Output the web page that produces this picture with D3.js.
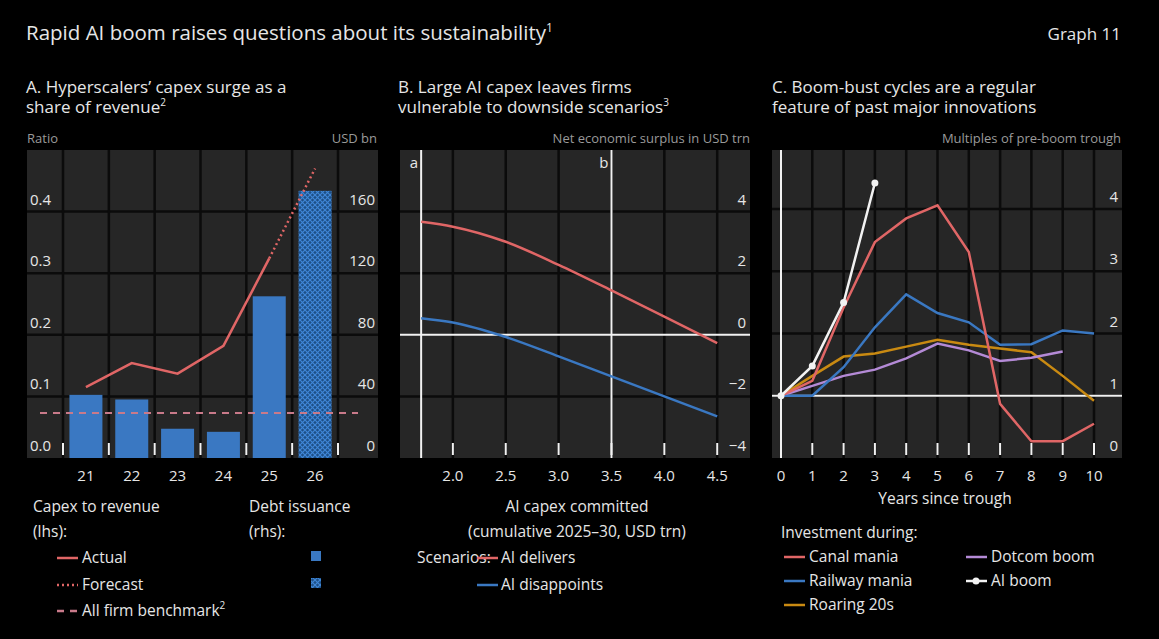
<!DOCTYPE html>
<html lang="en">
<head>
<meta charset="UTF-8">
<title>Rapid AI boom</title>
<script src="https://d3js.org/d3.v7.min.js"></script>
<style>
  body { margin: 0; background: #000; }
  svg text { font-family: "Open Sans", "Noto Sans", sans-serif; fill: #e6e6e6; }
  .unit { fill: #9a9a9a; font-size: 13px; }
  .tick { font-size: 15px; }
  .leg { font-size: 15.5px; }
</style>
</head>
<body>
<script>
// Panel A
const years = ["21", "22", "23", "24", "25", "26"];
const debtIssuance = [41, 38, 19, 17, 105, 173.5];
const capexActual = [0.115, 0.154, 0.137, 0.182, 0.324];
const capexForecast = [0.324, 0.47];
const benchmark = 0.073;
const ratioTicks = [0, 0.1, 0.2, 0.3, 0.4];
const usdTicks = [0, 40, 80, 120, 160];

// Panel B
const capexCommitted = [1.7, 2.0, 2.5, 3.0, 3.5, 4.0, 4.5];
const aiDelivers = [3.67, 3.51, 3.02, 2.27, 1.44, 0.59, -0.27];
const aiDisappoints = [0.54, 0.4, -0.07, -0.7, -1.35, -2.0, -2.65];
const capexTicks = [2.0, 2.5, 3.0, 3.5, 4.0, 4.5];
const surplusTicks = [-4, -2, 0, 2, 4];

// Panel C
const yearsSince = [0, 1, 2, 3, 4, 5, 6, 7, 8, 9, 10];
const canalMania = [1, 1.24, 2.42, 3.47, 3.85, 4.06, 3.31, 0.87, 0.27, 0.27, 0.55];
const railwayMania = [1, 1.0, 1.46, 2.1, 2.63, 2.33, 2.18, 1.82, 1.83, 2.05, 2.0];
const roaring20s = [1, 1.32, 1.63, 1.68, 1.79, 1.9, 1.82, 1.76, 1.7, 1.32, 0.92];
const dotcomBoom = [1, 1.16, 1.32, 1.42, 1.6, 1.84, 1.73, 1.56, 1.61, 1.71];
const aiBoom = [1, 1.48, 2.5, 4.42];
const multipleTicks = [0, 1, 2, 3, 4];

const RED = "#e06666", BLUE = "#3a78c2", ORANGE = "#c98a12", PURPLE = "#b48ad6", WHITE = "#f2f2f2";
const PANEL = "#262626", GRID = "#0b0b0b";
const plotTop = 150, plotBottom = 458;

const svg = d3.select("body").append("svg").attr("width", 1159).attr("height", 639);
svg.append("rect").attr("width", 1159).attr("height", 639).attr("fill", "#000");

svg.append("text").attr("x", 26).attr("y", 40).attr("font-size", 20.5).text("Rapid AI boom raises questions about its sustainability")
  .append("tspan").attr("font-size", 12).attr("dy", -8).text("1");
svg.append("text").attr("x", 1121).attr("y", 40).attr("font-size", 17).attr("text-anchor", "end").text("Graph 11");

function titles(x, l1, l2, sup) {
  svg.append("text").attr("x", x).attr("y", 93).attr("font-size", 17).text(l1);
  const t = svg.append("text").attr("x", x).attr("y", 113).attr("font-size", 17).text(l2);
  t.append("tspan").attr("font-size", 10).attr("dy", -7).text(sup);
}
titles(26, "A. Hyperscalers’ capex surge as a", "share of revenue", "2");
titles(398, "B. Large AI capex leaves firms", "vulnerable to downside scenarios", "3");
titles(772, "C. Boom-bust cycles are a regular", "feature of past major innovations", "");

function panel(x0, x1) {
  svg.append("rect").attr("x", x0).attr("y", plotTop).attr("width", x1 - x0).attr("height", plotBottom - plotTop).attr("fill", PANEL);
}
function hgrid(x0, x1, y, ticks) {
  svg.append("g").selectAll("line").data(ticks).join("line")
    .attr("x1", x0).attr("x2", x1).attr("y1", d => y(d)).attr("y2", d => y(d))
    .attr("stroke", GRID).attr("stroke-width", 2.5);
}
function vgrid(xs) {
  svg.append("g").selectAll("line").data(xs).join("line")
    .attr("x1", d => d).attr("x2", d => d).attr("y1", plotTop).attr("y2", plotBottom)
    .attr("stroke", GRID).attr("stroke-width", 2.5);
}
function bottomTicks(xs) {
  svg.append("g").selectAll("line").data(xs).join("line")
    .attr("x1", d => d).attr("x2", d => d).attr("y1", plotBottom - 15).attr("y2", plotBottom - 3)
    .attr("stroke", WHITE).attr("stroke-width", 2);
}
function yLabels(x, y, ticks, fmt, anchor) {
  svg.append("g").selectAll("text").data(ticks).join("text").attr("class", "tick")
    .attr("x", x).attr("y", d => y(d) - 7).attr("text-anchor", anchor).text(fmt);
}

// ---------- Panel A ----------
const ax0 = 27, ax1 = 378;
panel(ax0, ax1);
const xA = d3.scaleBand().domain(years).range([63, 338]).paddingInner(0.28).paddingOuter(0.14);
const yA = d3.scaleLinear().domain([0, 0.5]).range([plotBottom, plotTop]);
const yA2 = d3.scaleLinear().domain([0, 200]).range([plotBottom, plotTop]);
hgrid(ax0, ax1, yA, [0.1, 0.2, 0.3, 0.4]);
const stepA = (338 - 63) / years.length;
const bordersA = d3.range(years.length + 1).map(i => 63 + i * stepA);
vgrid(bordersA);
bottomTicks(bordersA);
yLabels(30, yA, ratioTicks, d3.format(".1f"), "start");
yLabels(375, yA2, usdTicks, d => d, "end");

const defs = svg.append("defs");
const pat = defs.append("pattern").attr("id", "hatch").attr("width", 5).attr("height", 5)
  .attr("patternUnits", "userSpaceOnUse");
pat.append("rect").attr("width", 5).attr("height", 5).attr("fill", "#1d4f86");
pat.append("path").attr("d", "M0,0L5,5M5,0L0,5").attr("stroke", "#3f86d6").attr("stroke-width", 1.2);

svg.append("g").selectAll("rect").data(debtIssuance).join("rect")
  .attr("x", (d, i) => xA(years[i])).attr("width", xA.bandwidth())
  .attr("y", d => yA2(d)).attr("height", d => yA2(0) - yA2(d))
  .attr("fill", (d, i) => i === 5 ? "url(#hatch)" : BLUE);
svg.append("line").attr("x1", 40).attr("x2", 358).attr("y1", yA(benchmark)).attr("y2", yA(benchmark))
  .attr("stroke", "#c97a8a").attr("stroke-width", 2).attr("stroke-dasharray", "7,6");
const cx = i => xA(years[i]) + xA.bandwidth() / 2;
svg.append("path").datum(capexActual)
  .attr("d", d3.line().x((d, i) => cx(i)).y(d => yA(d)))
  .attr("fill", "none").attr("stroke", RED).attr("stroke-width", 2.5);
svg.append("path").datum(capexForecast)
  .attr("d", d3.line().x((d, i) => cx(i + 4)).y(d => yA(d)))
  .attr("fill", "none").attr("stroke", RED).attr("stroke-width", 2.5).attr("stroke-dasharray", "2,3");
svg.append("g").selectAll("text").data(years).join("text").attr("class", "tick")
  .attr("x", d => xA(d) + xA.bandwidth() / 2).attr("y", 481).attr("text-anchor", "middle").text(d => d);
svg.append("text").attr("class", "unit").attr("x", 27).attr("y", 143).text("Ratio");
svg.append("text").attr("class", "unit").attr("x", 377).attr("y", 143).attr("text-anchor", "end").text("USD bn");

// ---------- Panel B ----------
const bx0 = 400, bx1 = 750;
panel(bx0, bx1);
const xB = d3.scaleLinear().domain([1.5, 4.81]).range([bx0, bx1]);
const yB = d3.scaleLinear().domain([-4, 6]).range([plotBottom, plotTop]);
hgrid(bx0, bx1, yB, [-2, 2, 4]);
vgrid(capexTicks.map(xB));
bottomTicks(capexTicks.map(xB));
yLabels(746, yB, surplusTicks, d => d < 0 ? "−" + (-d) : d, "end");
svg.append("line").attr("x1", bx0).attr("x2", bx1).attr("y1", yB(0)).attr("y2", yB(0)).attr("stroke", WHITE).attr("stroke-width", 2);
[[1.7, "a"], [3.5, "b"]].forEach(([v, lab]) => {
  svg.append("line").attr("x1", xB(v)).attr("x2", xB(v)).attr("y1", plotTop).attr("y2", plotBottom).attr("stroke", WHITE).attr("stroke-width", 2);
  svg.append("text").attr("x", xB(v) - 3).attr("y", 168).attr("text-anchor", "end").attr("font-size", 15).text(lab);
});
const lineB = d3.line().x((d, i) => xB(capexCommitted[i])).y(d => yB(d)).curve(d3.curveMonotoneX);
svg.append("path").datum(aiDelivers).attr("d", lineB).attr("fill", "none").attr("stroke", RED).attr("stroke-width", 2.5);
svg.append("path").datum(aiDisappoints).attr("d", lineB).attr("fill", "none").attr("stroke", BLUE).attr("stroke-width", 2.5);
svg.append("g").selectAll("text").data(capexTicks).join("text").attr("class", "tick")
  .attr("x", d => xB(d)).attr("y", 481).attr("text-anchor", "middle").text(d3.format(".1f"));
svg.append("text").attr("class", "unit").attr("x", 750).attr("y", 143).attr("text-anchor", "end").text("Net economic surplus in USD trn");

// ---------- Panel C ----------
const cx0 = 772, cx1 = 1122;
panel(cx0, cx1);
const xC = d3.scaleLinear().domain([0, 10]).range([781, 1094]);
const yC = d3.scaleLinear().domain([0, 4.95]).range([plotBottom, plotTop]);
hgrid(cx0, cx1, yC, [1, 2, 3, 4]);
vgrid(yearsSince.slice(1).map(xC));
bottomTicks(yearsSince.slice(1).map(xC));
yLabels(1118, yC, multipleTicks, d => d, "end");
svg.append("line").attr("x1", cx0).attr("x2", cx1).attr("y1", yC(1)).attr("y2", yC(1)).attr("stroke", WHITE).attr("stroke-width", 2);
svg.append("line").attr("x1", xC(0)).attr("x2", xC(0)).attr("y1", plotTop).attr("y2", plotBottom).attr("stroke", WHITE).attr("stroke-width", 2);
const lineC = d3.line().x((d, i) => xC(yearsSince[i])).y(d => yC(d));
[[roaring20s, ORANGE], [dotcomBoom, PURPLE], [railwayMania, BLUE], [canalMania, RED], [aiBoom, WHITE]].forEach(([s, c]) => {
  svg.append("path").datum(s).attr("d", lineC).attr("fill", "none").attr("stroke", c).attr("stroke-width", 2.5);
});
svg.append("g").selectAll("circle").data(aiBoom).join("circle")
  .attr("cx", (d, i) => xC(yearsSince[i])).attr("cy", d => yC(d)).attr("r", 3.5).attr("fill", WHITE);
svg.append("g").selectAll("text").data(yearsSince).join("text").attr("class", "tick")
  .attr("x", d => xC(d)).attr("y", 481).attr("text-anchor", "middle").text(d => d);
svg.append("text").attr("class", "unit").attr("x", 1121).attr("y", 143).attr("text-anchor", "end").text("Multiples of pre-boom trough");

// ---------- Legends ----------
function txt(x, y, s, anchor) {
  return svg.append("text").attr("class", "leg").attr("x", x).attr("y", y).attr("text-anchor", anchor || "start").text(s);
}
function legLine(x, y, color, dash) {
  svg.append("line").attr("x1", x).attr("x2", x + 21).attr("y1", y - 5).attr("y2", y - 5)
    .attr("stroke", color).attr("stroke-width", 2.5).attr("stroke-dasharray", dash || null);
}
txt(33, 512, "Capex to revenue"); txt(33, 537, "(lhs):");
legLine(57, 563, RED); txt(82, 563, "Actual");
legLine(57, 590, RED, "2,3"); txt(82, 590, "Forecast");
legLine(57, 616, "#c97a8a", "7,6"); txt(82, 616, "All firm benchmark").append("tspan").attr("font-size", 10).attr("dy", -7).text("2");
txt(249, 512, "Debt issuance"); txt(249, 537, "(rhs):");
svg.append("rect").attr("x", 311).attr("y", 551).attr("width", 10).attr("height", 10).attr("fill", BLUE);
svg.append("rect").attr("x", 311).attr("y", 578).attr("width", 10).attr("height", 10).attr("fill", "url(#hatch)");

txt(577, 512, "AI capex committed", "middle"); txt(577, 537, "(cumulative 2025–30, USD trn)", "middle");
txt(417, 563, "Scenarios:");
legLine(477, 563, RED); txt(501, 563, "AI delivers");
legLine(477, 590, BLUE); txt(501, 590, "AI disappoints");

txt(945, 504, "Years since trough", "middle");
txt(781, 538, "Investment during:");
legLine(784, 562, RED); txt(809, 562, "Canal mania");
legLine(784, 586, BLUE); txt(809, 586, "Railway mania");
legLine(784, 610, ORANGE); txt(809, 610, "Roaring 20s");
legLine(966, 562, PURPLE); txt(991, 562, "Dotcom boom");
legLine(966, 586, WHITE); txt(991, 586, "AI boom");
svg.append("circle").attr("cx", 976).attr("cy", 581).attr("r", 3.5).attr("fill", WHITE);
</script>
</body>
</html>
